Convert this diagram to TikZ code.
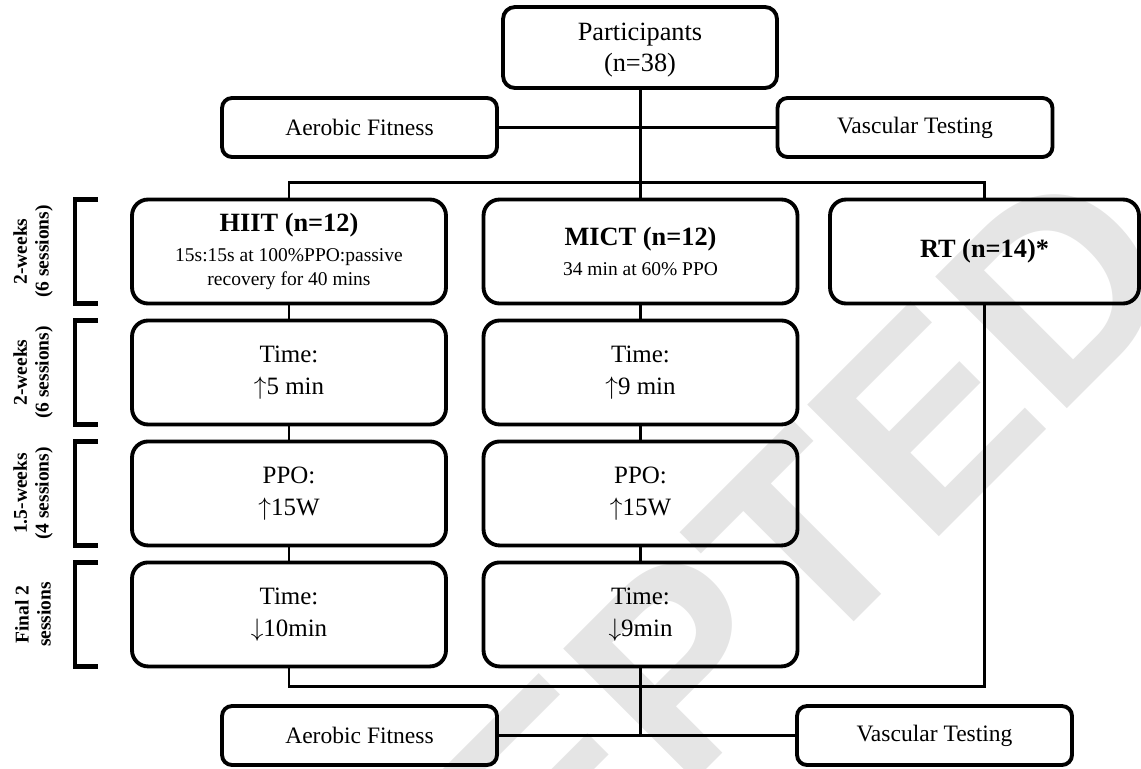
\documentclass[tikz,border=0pt]{standalone}
\usepackage{fontspec}
\setmainfont{Liberation Serif}
\newfontfamily\wmfont{Liberation Sans}
\usetikzlibrary{positioning}
\tikzset{
  stage/.style={draw,line width=2.2pt,rounded corners=0.32cm,minimum width=6.28cm,minimum height=2.08cm,inner sep=0pt,outer sep=0pt,align=center,font=\fontsize{14.2}{18.2}\selectfont},
  test/.style={draw,line width=2.2pt,rounded corners=0.2cm,minimum width=5.5cm,minimum height=1.18cm,inner sep=0pt,outer sep=0pt,align=center,font=\fontsize{13.4}{16}\selectfont},
  link/.style={line width=1.7pt},
  brack/.style={line width=2.4pt},
  period/.style={rotate=90,align=center,inner sep=0pt,font=\fontsize{11.1}{12.5}\selectfont\bfseries},
  wmark/.style={text=black!10,inner sep=0pt,font=\wmfont\bfseries\fontsize{154}{154}\selectfont}
}
\begin{document}
\begin{tikzpicture}[x=0.02cm,y=-0.02cm,node distance=0.34cm]
                \useasboundingbox (0,0) rectangle (1141,768);
                \clip (0,0) rectangle (1141,768);
                \node[wmark,anchor=base west,rotate=45] (stamp) at (140,1336) {ACCEPTED};

                \node[test,minimum width=5.48cm,minimum height=1.62cm,rounded corners=0.24cm,text depth=-2pt,font=\fontsize{15}{17.6}\selectfont] (part) at (640,47.5) {Participants\\(n=38)};
                \node[test] (aer1) at (359.5,127.5) {Aerobic Fitness};
                \node[test] (vasc1) at (915,127.5) {Vascular Testing};

                \node[stage,font=\fontsize{11.1}{13.8}\selectfont] (hiit1) at (289,251.5)
                    {{\fontsize{15}{15}\selectfont\bfseries HIIT (n=12)}\\[3pt]15s:15s at 100\%PPO:passive\\recovery for 40 mins};
                \node[stage,below=of hiit1] (hiit2) {Time:\\$\uparrow$5 min};
                \node[stage,below=of hiit2] (hiit3) {PPO:\\$\uparrow$15W};
                \node[stage,below=of hiit3] (hiit4) {Time:\\$\downarrow$10min};

                \node[stage,font=\fontsize{11.1}{13.8}\selectfont] (mict1) at (640.5,251.5)
                    {{\fontsize{15}{15}\selectfont\bfseries MICT (n=12)}\\[3pt]34 min at 60\% PPO};
                \node[stage,below=of mict1] (mict2) {Time:\\$\uparrow$9 min};
                \node[stage,below=of mict2] (mict3) {PPO:\\$\uparrow$15W};
                \node[stage,below=of mict3] (mict4) {Time:\\$\downarrow$9min};

                \node[stage,minimum width=6.18cm,font=\fontsize{15}{18}\selectfont\bfseries] (rt) at (984.5,251.5) {RT (n=14)*};

                \node[test] (aer2) at (359.5,735.5) {Aerobic Fitness};
                \node[test] (vasc2) at (934.5,735.5) {Vascular Testing};

                \coordinate (split) at (640,182);
                \coordinate (merge) at (640,686);

                \draw[link] (part.south) -- (part.south |- mict1.north);
                \draw[link] (aer1) -- (vasc1);
                \draw[link] (hiit1.north) |- (split) -| (rt.north);
                \foreach \g in {hiit,mict}
                    \foreach \i [count=\j from 2] in {1,2,3}
                        \draw[link] (\g\i) -- (\g\j);
                \draw[link] (hiit4.south) |- (merge) -| (rt.south);
                \draw[link] (mict4.south) -- (mict4.south |- aer2);
                \draw[link] (aer2) -- (vasc2);

                \foreach \i/\txt in {1/{2-weeks\\(6 sessions)},2/{2-weeks\\(6 sessions)},3/{1.5-weeks\\(4 sessions)},4/{Final 2\\sessions}}{
                    \draw[brack] ([xshift=-0.68cm]hiit\i.north west) -- ++(-23,0) |- ([xshift=-0.68cm]hiit\i.south west);
                    \node[period] (lab\i) at ([xshift=-1.98cm]hiit\i.west) {\txt};
                }
            \end{tikzpicture}
\end{document}
